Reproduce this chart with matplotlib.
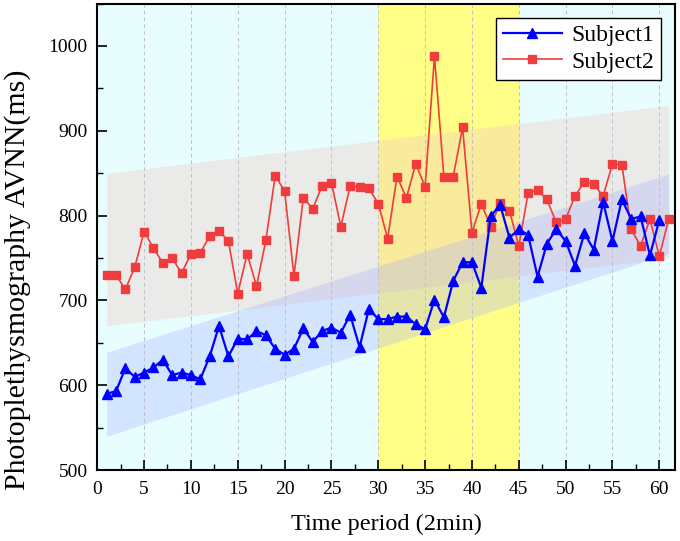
import numpy as np
import matplotlib
matplotlib.use('Agg')
import matplotlib.pyplot as plt
from matplotlib.ticker import MultipleLocator

plt.rcParams['font.family'] = ['Liberation Serif', 'DejaVu Serif']

# data
subject1 = [590, 593, 620, 610, 615, 621, 630, 612, 615, 612,
            607, 634, 670, 634, 655, 654, 664, 659, 643, 636,
            643, 667, 651, 664, 668, 662, 683, 645, 690, 678,
            678, 681, 681, 672, 666, 701, 680, 723, 745, 745,
            715, 799, 813, 774, 784, 777, 728, 767, 784, 770,
            741, 779, 760, 816, 770, 819, 796, 799, 753, 795]
subject2 = [730, 730, 713, 739, 781, 762, 744, 750, 732, 755,
            756, 776, 782, 770, 708, 755, 717, 771, 847, 829,
            729, 821, 808, 835, 839, 787, 835, 834, 832, 814,
            773, 846, 821, 861, 834, 988, 846, 846, 904, 780,
            814, 787, 815, 806, 764, 827, 830, 819, 792, 796,
            823, 840, 837, 823, 861, 860, 784, 764, 796, 752,
            796]
x1 = np.arange(1, len(subject1) + 1)
x2 = np.arange(1, len(subject2) + 1)

# shaded trend bands (end points)
band_x = [1, 61]
s2_upper = [850, 930]
s2_lower = [670, 750]
s1_upper = [639, 849]
s1_lower = [540, 755]

# highlighted period
span = (30, 45)

fig = plt.figure(figsize=(6.8, 5.41), dpi=100)
ax = fig.add_axes([0.143, 0.131, 0.850, 0.8625])
ax.set_facecolor('#e8fefe')
ax.axvspan(span[0], span[1], color='#ffff88', zorder=0.1, lw=0)

ax.fill_between(band_x, s2_lower, s2_upper, color='#f0c8c0', alpha=0.35,
                lw=0, zorder=0.2)
ax.fill_between(band_x, s1_lower, s1_upper, color='#a5aaff', alpha=0.3,
                lw=0, zorder=0.3)

ax.set_axisbelow(True)
ax.grid(axis='x', which='major', linestyle=(0, (4, 3)), color='#c0c0cc', lw=0.7)

ax.plot(x1, subject1, color='#0000ff', lw=1.6, marker='^', ms=7.5,
        label='Subject1', zorder=3)
ax.plot(x2, subject2, color='#f03c3c', lw=1.2, marker='s', ms=6,
        label='Subject2', zorder=2)

ax.set_xlim(0, 61.7)
ax.set_ylim(500, 1050)
ax.xaxis.set_major_locator(MultipleLocator(5))
ax.xaxis.set_minor_locator(MultipleLocator(2.5))
ax.yaxis.set_major_locator(MultipleLocator(100))
ax.yaxis.set_minor_locator(MultipleLocator(50))
ax.tick_params(which='major', direction='in', length=7, width=1.2,
               labelsize=14, top=False, right=False)
ax.tick_params(which='minor', direction='in', length=4, width=1.0,
               top=False, right=False)
ax.tick_params(axis='x', pad=8)
ax.tick_params(axis='y', pad=7)
for s in ax.spines.values():
    s.set_linewidth(1.5)

ax.set_xlabel('Time period (2min)', fontsize=17.5, labelpad=11)
ax.set_ylabel('Photoplethysmography AVNN(ms)', fontsize=21.5)
ax.yaxis.set_label_coords(-0.114, 0.407)

leg = ax.legend(loc='upper right', fontsize=17, numpoints=1, handlelength=2.5,
                fancybox=False, framealpha=1, edgecolor='black',
                borderaxespad=0.6, handletextpad=0.4, labelspacing=0.2,
                borderpad=0.3)
leg.get_frame().set_linewidth(1.0)

fig.savefig('out.png', dpi=100)
